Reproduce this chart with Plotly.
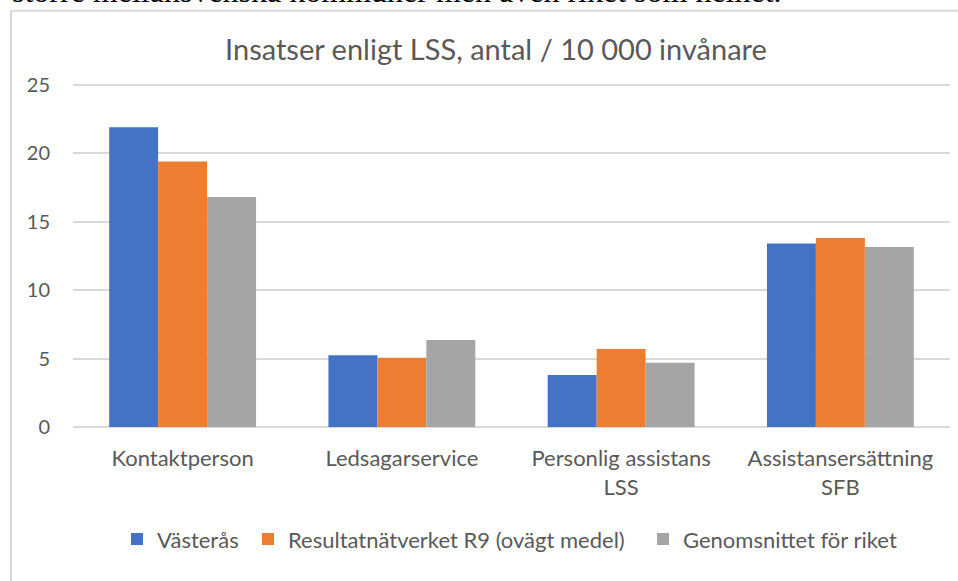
import plotly.graph_objects as go

categories = ["Kontaktperson", "Ledsagarservice", "Personlig assistans<br>LSS", "Assistansersättning<br>SFB"]
series_names = ["Västerås", "Resultatnätverket R9 (ovägt medel)", "Genomsnittet för riket"]
vasteras = [21.9, 5.25, 3.8, 13.4]
r9 = [19.4, 5.05, 5.7, 13.8]
riket = [16.8, 6.35, 4.7, 13.15]
colors = ["#4472C4", "#ED7D31", "#A5A5A5"]
y_ticks = [0, 5, 10, 15, 20, 25]

title_text = "Insatser enligt LSS, antal / 10 000 invånare"
cut_text = "större mellansvenska kommuner men även riket som helhet."

W, H = 958, 581
YMAX = 25.2
L, R = 73, 950
B = 427.5
T = 84.3 - (YMAX - 25) * 13.73

def px(x):
    return (x - L) / (R - L)

def py(y):
    return (B - y) / (B - T)

legend_ids = ["legend", "legend2", "legend3"]
legend_square_left = [133, 264, 659]

fig = go.Figure()
for name, vals, col, lg in zip(series_names, [vasteras, r9, riket], colors, legend_ids):
    fig.add_trace(go.Bar(x=categories, y=vals, name=name, legend=lg,
                         marker=dict(color=col, line=dict(width=0))))

font_main = "Lato, 'Open Sans', sans-serif"
grey = "#595959"

legend_style = dict(orientation="h", xanchor="left", y=py(540), yanchor="middle",
                    font=dict(family=font_main, size=22, color=grey),
                    bgcolor="rgba(0,0,0,0)", borderwidth=0)

fig.update_layout(
    width=W, height=H,
    margin=dict(l=L, r=W - R, t=T, b=H - B, pad=0),
    paper_bgcolor="white", plot_bgcolor="white",
    barmode="group", bargap=0.33, bargroupgap=0,
    font=dict(family=font_main, color=grey, size=22),
    title=dict(text=title_text, x=496 / W, xanchor="center", xref="container",
               y=1 - 50 / H, yanchor="middle", yref="container",
               font=dict(family=font_main, size=29, color=grey)),
    legend=dict(x=px(legend_square_left[0] - 16), **legend_style),
    legend2=dict(x=px(legend_square_left[1] - 16), **legend_style),
    legend3=dict(x=px(legend_square_left[2] - 16), **legend_style),
    showlegend=True,
)
fig.update_xaxes(showgrid=False, showline=False, zeroline=False, ticks="",
                 tickfont=dict(family=font_main, size=22, color=grey), ticklabelstandoff=16)
fig.update_yaxes(range=[0, YMAX], tickvals=y_ticks, showgrid=True, gridcolor="#D9D9D9", gridwidth=1.5,
                 zeroline=True, zerolinecolor="#D9D9D9", zerolinewidth=1.5, showline=False, ticks="",
                 tickfont=dict(family=font_main, size=20, color=grey), ticklabelstandoff=22)

# outer chart border (extends beyond the visible crop)
fig.add_shape(type="rect", xref="paper", yref="paper",
              x0=px(11), x1=px(990), y0=py(10), y1=py(620),
              line=dict(color="#D9D9D9", width=2), fillcolor="rgba(0,0,0,0)", layer="below")

# cut-off body text at the top of the page
fig.add_annotation(text=cut_text, xref="paper", yref="paper", x=px(10), xanchor="left",
                   y=py(-10), yanchor="middle", showarrow=False,
                   font=dict(family="'Liberation Serif', 'Times New Roman', serif", size=32, color="black"))

fig.write_html("out.html", config={"displayModeBar": False},
               post_script="document.body.style.margin='0';document.body.style.overflow='hidden';")
